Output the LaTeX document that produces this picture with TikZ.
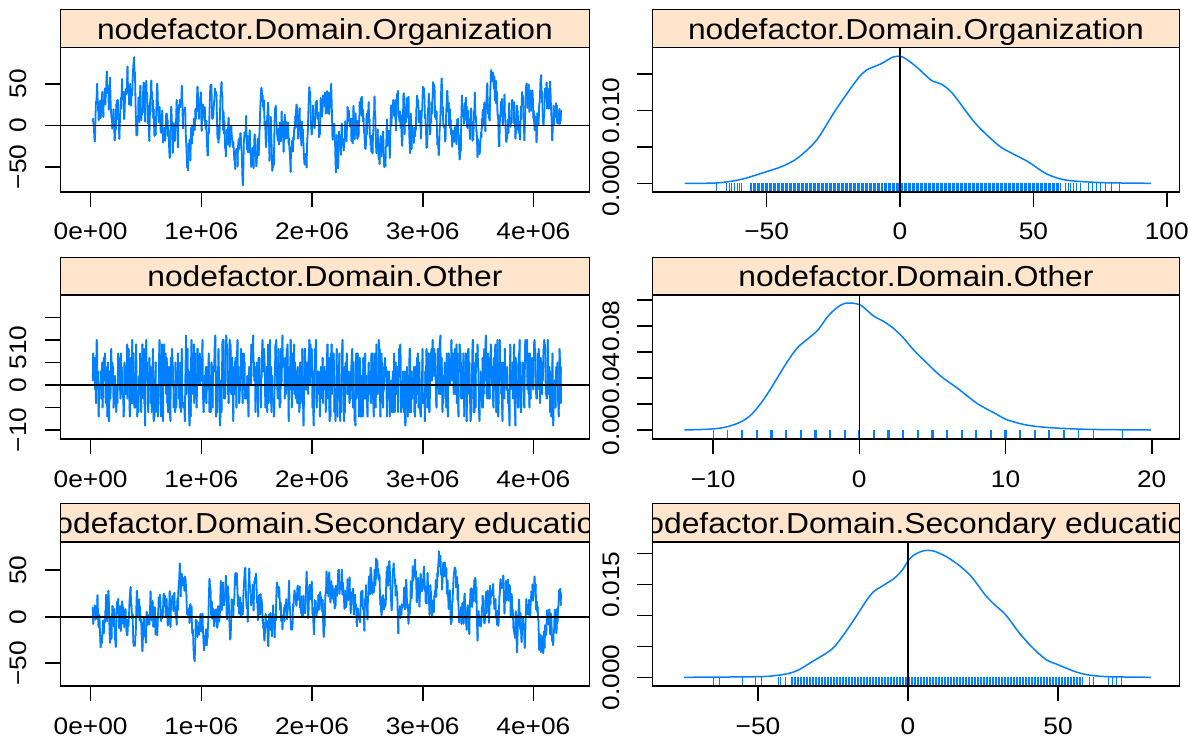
\documentclass[tikz,border=0pt]{standalone}
\usepackage{fontspec}
\setmainfont{Liberation Sans}[FakeStretch=1.1]
\definecolor{stripcol}{HTML}{FFE5CC}
\definecolor{tracecol}{HTML}{0080FF}
\begin{document}
\begin{tikzpicture}[x=1bp, y=-1bp,
  frame/.style={draw=black, line width=1.6bp},
  stripbox/.style={fill=stripcol, draw=black, line width=1bp},
  trace/.style={draw=tracecol, line width=1.8bp, line cap=round},
  dens/.style={draw=tracecol, line width=1.5bp},
  rug/.style={draw=tracecol, line width=1bp},
  ticklab/.style={font=\fontsize{24}{24}\selectfont, inner sep=0pt},
  ylab/.style={ticklab, rotate=90},
  title/.style={font=\fontsize{29}{29}\selectfont, inner sep=0pt, anchor=base}]
\useasboundingbox[fill=white] (0,0) rectangle (1188,742);

%strips, titles clipped to the strip
\foreach \st/\tp/\nm [count=\r] in {10/47.7/Organization, 257.3/295/Other, 503.3/541.7/Secondary education}{
  \foreach \xl/\xr [count=\c] in {60.3/589.5, 652.3/1179.5}{
    \draw[stripbox] (\xl,\st) rectangle (\xr,\tp);
    \begin{scope}
      \clip (\xl,\st) rectangle (\xr,\tp);
      \node[title] (strip\r\c) at ({(\xl+\xr)/2},\tp-8.4) {nodefactor.Domain.\nm};
    \end{scope}
  }
}

%traces (left column): slow level + fast noise
\pgfmathsetseed{11}
\begin{scope}[shift={(90.6,125.3)}, x=110.7bp, y=0.83bp]
\xdef\yold{5}\xdef\mold{5}
\foreach \i in {1,...,1200}{
  \pgfmathsetmacro\mnew{0.03+0.99*\mold+2.9*rand}
  \pgfmathsetmacro\ynew{max(-72,min(84,\mnew+0.8*(\yold-\mold)+23*rand))}
  \draw[trace] ({0.02+0.00352*(\i-1)},\yold) -- ({0.02+0.00352*\i},\ynew);
  \xdef\yold{\ynew}\xdef\mold{\mnew}
}
\end{scope}
\begin{scope}[shift={(90.6,385)}, x=110.7bp, y=4.5bp]
\xdef\yold{1}
\foreach \i in {1,...,1200}{
  \pgfmathsetmacro\ynew{max(-10,min(16,0.7+0.3*\yold+8.2*rand))}
  \draw[trace] ({0.02+0.00352*(\i-1)},{round(\yold)}) -- ({0.02+0.00352*\i},{round(\ynew)});
  \xdef\yold{\ynew}
}
\end{scope}
\begin{scope}[shift={(90.6,616.7)}, x=110.7bp, y=0.93bp]
\xdef\yold{10}\xdef\mold{8}
\foreach \i in {1,...,1200}{
  \pgfmathsetmacro\mnew{0.08+0.99*\mold+2.4*rand}
  \pgfmathsetmacro\ynew{max(-65,min(72,\mnew+0.8*(\yold-\mold)+18.7*rand))}
  \draw[trace] ({0.02+0.00352*(\i-1)},\yold) -- ({0.02+0.00352*\i},\ynew);
  \xdef\yold{\ynew}\xdef\mold{\mnew}
}
\end{scope}
\draw[frame] (60.3,125.3) -- (589.5,125.3);
\draw[frame] (60.3,385) -- (589.5,385);
\draw[frame] (60.3,616.7) -- (589.5,616.7);

%densities with rugs (right column)
\begin{scope}[shift={(900,183.3)}, x=2.668bp, y=7.3bp]
\draw[dens] plot[smooth] coordinates {(-80.7,0) (-68.7,0.05) (-59.4,0.55) (-50,1.6) (-44.3,2.3) (-38.6,3.4) (-31.3,5.9) (-24.2,10.0) (-16.3,14.1) (-12.6,15.5) (-6.9,16.4) (-2.6,17.3) (1,17.3) (6,16.0) (11.8,14.1) (15.4,13.6) (19.7,12.3) (28.3,8.2) (36.9,5.2) (42,4.1) (47.8,3.0) (54.9,1.3) (62.1,0.45) (75,0.1) (94,0)};
\foreach \r in {-68.7,-65,-64,-63,-62,-61,-60,-59.4,-56,-55.5,...,60,62.2,63,64,65,66,67.8,70.8,72,73.5,75,77,79.4,82.3}
  \draw[rug] (\r,0) -- (\r,-1.15);
\end{scope}
\begin{scope}[shift={(859.3,430)}, x=14.62bp, y=13bp]
\draw[dens] plot[smooth] coordinates {(-11.96,0) (-10.05,0.08) (-9,0.26) (-8.07,0.64) (-7.42,1.15) (-6.77,2.0) (-6.11,3.08) (-5.07,5.0) (-4.27,6.28) (-3.62,6.92) (-2.83,7.69) (-2.17,8.72) (-1.53,9.41) (-1.0,9.74) (-0.34,9.74) (0.18,9.54) (0.97,8.77) (1.62,8.38) (2.28,7.87) (2.94,7.18) (3.72,6.15) (4.64,5.13) (5.56,4.15) (6.73,3.2) (8.05,2.05) (9.36,1.23) (10.14,0.77) (11.46,0.38) (13.03,0.18) (15.65,0.05) (19.95,0)};
\foreach \r in {-8,...,14}
  \draw[rug, line width=2.2bp] (\r,0) -- (\r,-0.69);
\foreach \r in {-10,-9,15,16,18}
  \draw[rug] (\r,0) -- (\r,-0.69);
\end{scope}
\begin{scope}[shift={(908,677.3)}, x=3bp, y=6.2bp]
\draw[dens] plot[smooth] coordinates {(-74.7,0) (-50,0.1) (-43.6,0.32) (-39.7,0.64) (-36.5,1.18) (-32,2.5) (-26.9,4.0) (-24.3,5.05) (-21.1,7.1) (-17.3,9.8) (-14.1,12.2) (-11.5,13.8) (-8.3,14.8) (-4.5,16.0) (-1.9,17.3) (0,18.76) (1.9,19.7) (5.1,20.4) (8.3,20.4) (12.8,19.45) (17.3,17.95) (21.2,16.2) (25.7,13.3) (28.9,11.7) (32.7,10.0) (37.2,7.1) (41.7,4.68) (46.2,2.79) (49.4,2.15) (55.8,0.9) (60.3,0.37) (66.7,0.1) (81,0)};
\foreach \r in {-64.7,-62.7,-55.2,-50.8,-48.8,-43.3,-42.5,-40.8,-39,-38.5,...,58.3,60.4,61.7,66.7,68,69.5,71.2}
  \draw[rug] (\r,0) -- (\r,-1.4);
\end{scope}
\draw[frame] (900,47.7) -- (900,191.7);
\draw[frame] (859.3,295) -- (859.3,439);
\draw[frame] (908,541.7) -- (908,686);

%frames and ticks
\foreach \tp/\bt [count=\r] in {47.7/191.7, 295/439, 541.7/686}{
  \draw[frame] (60.3,\tp) rectangle (589.5,\bt);
  \draw[frame] (652.3,\tp) rectangle (1179.5,\bt);
  \foreach \lab/\xx [count=\k] in {0e+00/90.6, 1e+06/201.3, 2e+06/312, 3e+06/422.7, 4e+06/533.4}{
    \draw[frame] (\xx,\bt) -- (\xx,\bt+15);
    \node[ticklab] (xl\r\k) at (\xx,\bt+40) {\lab};
  }
}
\foreach \lab/\xx/\bt [count=\k] in {−50/766.6/191.7, 0/900/191.7, 50/1033.4/191.7, 100/1166.8/191.7,
    −10/713.1/439, 0/859.3/439, 10/1005.5/439, 20/1151.7/439,
    −50/758/686, 0/908/686, 50/1058/686}{
  \draw[frame] (\xx,\bt) -- (\xx,\bt+15);
  \node[ticklab] (xr\k) at (\xx,\bt+40) {\lab};
}
\foreach \yy in {83.8,125.3,166.8,317.5,340,362.5,385,407.5,430,570.2,616.7,663.2}
  \draw[frame] (44.6,\yy) -- (60.3,\yy);
\foreach \lab/\yy [count=\k] in {50/83.8, 0/125.3, −50/166.8, 10/340, 5/362.5, 0/385, −10/430, 50/570.2, 0/616.7, −50/663.2}
  \node[ylab] (yl\k) at (18,\yy) {\lab};
\foreach \yy in {73.8,110.3,146.8,183.3,300,326,352,378,404,430,553.3,584.3,615.3,646.3,677.3}
  \draw[frame] (636.6,\yy) -- (652.3,\yy);
\foreach \lab/\yy [count=\k] in {0.000/183.3, 0.010/110.3, 0.00/430, 0.04/378, 0.08/326, 0.000/677.3, 0.015/584.3}
  \node[ylab] (yr\k) at (611,\yy) {\lab};
\end{tikzpicture}
\end{document}
